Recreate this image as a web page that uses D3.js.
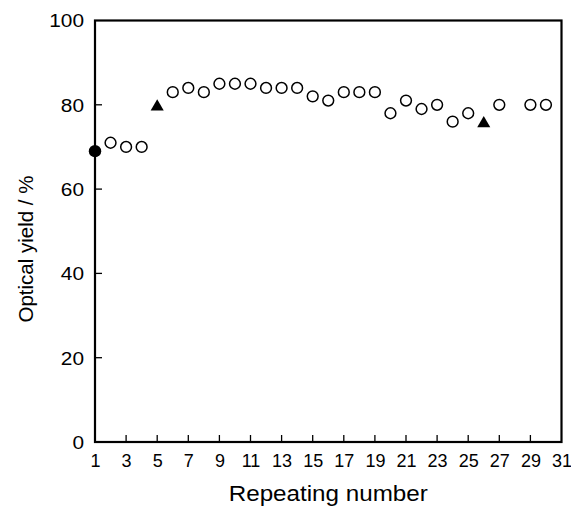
<!DOCTYPE html>
<html>
<head>
<meta charset="utf-8">
<script src="https://cdn.jsdelivr.net/npm/d3@7"></script>
<style>
  html, body { margin: 0; padding: 0; background: #fff; }
  svg { display: block; }
  text { font-family: "Liberation Sans", Arial, Helvetica, sans-serif; fill: #000; }
</style>
</head>
<body>
<svg id="chart" width="571" height="508"></svg>
<script>
// ---- data ----
const openRuns   = [2, 3, 4, 6, 7, 8, 9, 10, 11, 12, 13, 14, 15, 16, 17, 18, 19, 20, 21, 22, 23, 24, 25, 27, 29, 30];
const openYields = [71, 70, 70, 83, 84, 83, 85, 85, 85, 84, 84, 84, 82, 81, 83, 83, 83, 78, 81, 79, 80, 76, 78, 80, 80, 80];
const filledRuns   = [1];
const filledYields = [69];
const triangleRuns   = [5, 26];
const triangleYields = [80, 76];
const xTickValues = [1, 3, 5, 7, 9, 11, 13, 15, 17, 19, 21, 23, 25, 27, 29, 31];
const yTickValues = [0, 20, 40, 60, 80, 100];
const xTitle = "Repeating number";
const yTitle = "Optical yield / %";

// ---- layout ----
const mLeft = 95, mRight = 561.5, mTop = 20.5, mBottom = 442;
const svg = d3.select("#chart");
const x = d3.scaleLinear().domain([1, 31]).range([mLeft, mRight]);
const y = d3.scaleLinear().domain([0, 100]).range([mBottom, mTop]);

// bottom axis labels
const xAxis = d3.axisBottom(x).tickValues(xTickValues).tickSize(0).tickPadding(0).tickFormat(d3.format("d"));
const gx = svg.append("g").attr("transform", `translate(0,${mBottom})`).call(xAxis);
gx.select(".domain").remove();
gx.selectAll(".tick line").remove();
gx.selectAll(".tick text").attr("y", 25).attr("dy", null).attr("font-size", 18).attr("font-family", "Liberation Sans, Arial, sans-serif");
// inward ticks
svg.append("g").selectAll("line").data(xTickValues.filter(d => d > 1 && d < 31)).join("line")
  .attr("x1", d => x(d)).attr("x2", d => x(d)).attr("y1", mBottom).attr("y2", mBottom - 7)
  .attr("stroke", "#000").attr("stroke-width", 1.3);

// left axis labels
const yAxis = d3.axisLeft(y).tickValues(yTickValues).tickSize(0).tickPadding(11).tickFormat(d3.format("d"));
const gy = svg.append("g").attr("transform", `translate(${mLeft},0)`).call(yAxis);
gy.select(".domain").remove();
gy.selectAll(".tick line").remove();
gy.selectAll(".tick text").attr("font-size", 17.5).attr("font-family", "Liberation Sans, Arial, sans-serif")
  .attr("dy", "0.36em")
  .attr("textLength", d => String(d).length * 11.6).attr("lengthAdjust", "spacingAndGlyphs");
svg.append("g").selectAll("line").data(yTickValues.filter(d => d > 0 && d < 100)).join("line")
  .attr("x1", mLeft).attr("x2", mLeft + 7).attr("y1", d => y(d)).attr("y2", d => y(d))
  .attr("stroke", "#000").attr("stroke-width", 1.3);

// frame
svg.append("rect").attr("x", mLeft).attr("y", mTop).attr("width", mRight - mLeft).attr("height", mBottom - mTop)
  .attr("fill", "none").attr("stroke", "#000").attr("stroke-width", 2.2);

// axis titles
svg.append("text").attr("x", (mLeft + mRight) / 2).attr("y", 501).attr("text-anchor", "middle")
  .attr("font-size", 22).attr("textLength", 199).attr("lengthAdjust", "spacingAndGlyphs").text(xTitle);
svg.append("text").attr("transform", `translate(33,249) rotate(-90)`).attr("text-anchor", "middle")
  .attr("font-size", 20.5).text(yTitle);

// markers
svg.append("g").selectAll("circle").data(openRuns.map((r, i) => [r, openYields[i]])).join("circle")
  .attr("cx", d => x(d[0])).attr("cy", d => y(d[1])).attr("r", 5.4)
  .attr("fill", "#fff").attr("stroke", "#000").attr("stroke-width", 1.5);
svg.append("g").selectAll("circle").data(filledRuns.map((r, i) => [r, filledYields[i]])).join("circle")
  .attr("cx", d => x(d[0])).attr("cy", d => y(d[1])).attr("r", 6.2)
  .attr("fill", "#000");
const tri = d3.symbol().type(d3.symbolTriangle).size(74);
svg.append("g").selectAll("path").data(triangleRuns.map((r, i) => [r, triangleYields[i]])).join("path")
  .attr("d", tri).attr("transform", d => `translate(${x(d[0])},${y(d[1]) + 1.9})`)
  .attr("fill", "#000");
</script>
</body>
</html>
